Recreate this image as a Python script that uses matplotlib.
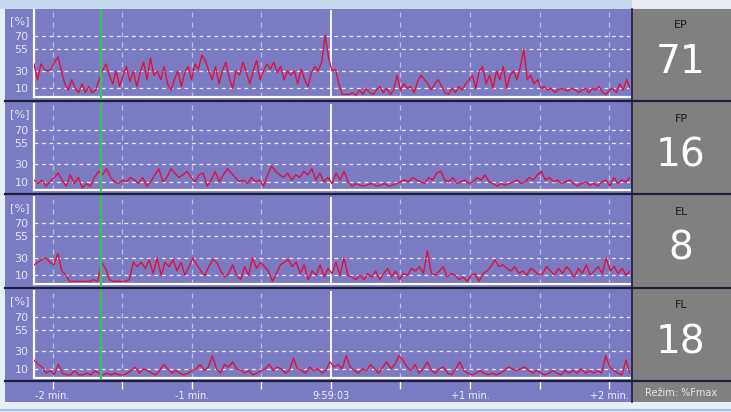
import numpy as np
import matplotlib.pyplot as plt
from matplotlib.patches import Rectangle
from matplotlib.lines import Line2D

# ---- data (values in % of Fmax) ----
channels = ["EP", "FP", "EL", "FL"]
current_values = [71, 16, 8, 18]

ep = [38, 20, 38, 32, 30, 32, 40, 46, 30, 15, 8, 20, 10, 5, 15, 5, 12, 5, 8,
      20, 30, 38, 25, 15, 30, 12, 25, 35, 18, 30, 12, 28, 40, 20, 45, 25, 30, 20,
      35, 15, 8, 20, 30, 12, 28, 35, 20, 38, 32, 48, 42, 30, 20, 35, 15, 30, 40,
      22, 10, 30, 25, 40, 28, 15, 30, 42, 20, 30, 38, 32, 40, 28, 35, 20, 30, 25,
      30, 15, 32, 20, 12, 28, 35, 30, 40, 71, 45, 30, 32, 15, 3, 3, 3, 5, 2, 8,
      3, 10, 5, 3, 8, 12, 5, 10, 3, 8, 25, 8, 15, 10, 12, 5, 18, 25, 20, 15, 8,
      15, 20, 12, 5, 3, 10, 5, 12, 8, 15, 20, 25, 10, 30, 35, 15, 25, 10, 30, 20,
      35, 10, 25, 30, 20, 35, 55, 20, 25, 15, 20, 10, 12, 8, 10, 5, 8, 10, 8, 7,
      10, 8, 5, 8, 10, 5, 10, 8, 12, 5, 3, 8, 10, 5, 15, 8, 20, 10]

fp = [12, 8, 12, 5, 10, 15, 20, 12, 5, 18, 8, 15, 3, 8, 5, 15, 22, 18, 25, 15,
      10, 8, 12, 10, 15, 12, 8, 15, 5, 10, 18, 25, 10, 15, 25, 20, 15, 18, 22, 15,
      10, 18, 20, 5, 12, 22, 10, 18, 25, 20, 15, 10, 12, 8, 15, 10, 12, 5, 18, 28,
      22, 18, 15, 20, 12, 18, 15, 22, 18, 25, 12, 20, 10, 15, 8, 20, 12, 22, 10, 5,
      8, 6, 5, 7, 8, 5, 6, 8, 5, 6, 8, 10, 12, 10, 15, 12, 10, 8, 15, 12, 20, 22,
      12, 10, 15, 8, 10, 12, 8, 10, 15, 12, 18, 10, 8, 5, 8, 6, 8, 10, 12, 8, 10,
      15, 12, 18, 22, 12, 15, 10, 12, 8, 10, 12, 8, 5, 8, 10, 6, 8, 5, 10, 12, 5,
      15, 8, 12, 10, 15]

el = [22, 25, 28, 30, 25, 22, 35, 15, 10, 3, 3, 3, 3, 3, 3, 5, 3, 25, 18, 5, 3,
      3, 3, 3, 5, 25, 20, 25, 18, 28, 12, 30, 10, 25, 20, 28, 15, 25, 10, 20, 30,
      22, 15, 10, 20, 28, 25, 15, 8, 12, 22, 10, 5, 20, 10, 30, 18, 25, 20, 15, 3,
      12, 22, 25, 28, 20, 25, 12, 22, 5, 15, 10, 22, 8, 18, 12, 25, 10, 30, 10, 8,
      5, 10, 5, 12, 8, 15, 5, 12, 18, 8, 15, 5, 12, 10, 18, 15, 20, 12, 38, 12, 10,
      15, 20, 8, 12, 10, 5, 8, 3, 10, 12, 3, 12, 15, 20, 28, 20, 22, 18, 15, 20,
      12, 15, 10, 18, 15, 10, 12, 20, 15, 10, 18, 12, 20, 15, 8, 18, 12, 22, 10,
      15, 20, 12, 30, 15, 20, 12, 18, 10, 15]

fl = [20, 15, 12, 5, 8, 3, 15, 5, 3, 3, 8, 3, 3, 5, 3, 8, 5, 3, 5, 3, 5, 3, 3, 5,
      8, 12, 5, 10, 8, 5, 3, 8, 15, 10, 5, 8, 5, 3, 5, 8, 10, 15, 8, 12, 25, 10, 5,
      15, 12, 18, 10, 8, 5, 8, 3, 5, 8, 10, 15, 8, 12, 10, 5, 8, 22, 10, 8, 5, 12,
      8, 10, 5, 8, 18, 12, 15, 10, 25, 12, 8, 5, 10, 8, 15, 10, 5, 12, 18, 10, 15,
      25, 20, 12, 8, 15, 5, 10, 18, 8, 5, 10, 12, 5, 3, 10, 18, 8, 5, 3, 5, 8, 5,
      3, 5, 3, 5, 8, 12, 10, 8, 10, 12, 8, 5, 8, 5, 3, 5, 8, 5, 3, 8, 5, 8, 5, 10,
      5, 8, 5, 8, 5, 25, 12, 8, 5, 3, 20, 5]

series = [ep, fp, el, fl]

t_start, t_end = -128, 129          # seconds relative to 9:59:03
marker_time = -99                   # green cursor
y_ticks = [10, 30, 55, 70]
time_ticks = [-120, -90, -60, -30, 0, 30, 60, 90, 120]
time_labels = ["-2 min.", "", "-1 min.", "", "9:59:03", "", "+1 min.", "", "+2 min."]

# ---- look ----
W, H = 731, 412
PURPLE = "#7b7bc4"
GRAY = "#808080"
DARK = "#1e1e3c"
RED = "#e0103c"
LIGHT = "#e4e4f4"


def box(x0, y0, x1, y1):
    return [x0 / W, 1 - y1 / H, (x1 - x0) / W, (y1 - y0) / H]


def rect(x0, y0, x1, y1, color, z=-2):
    r = Rectangle((x0 / W, 1 - y1 / H), (x1 - x0) / W, (y1 - y0) / H,
                  transform=fig.transFigure, facecolor=color, edgecolor="none", zorder=z)
    fig.add_artist(r)


def hline(y, x0, x1, color, lw):
    fig.add_artist(Line2D([x0 / W, x1 / W], [1 - y / H, 1 - y / H], color=color,
                          lw=lw, transform=fig.transFigure, zorder=5))


fig = plt.figure(figsize=(W / 100, H / 100), dpi=100, facecolor="#e6eef6")

# background pieces
rect(0, 0, W, 9, "#c6daef")
rect(632, 0, W, 9, "#e8ecf0")
rect(5, 9, 632, 402, PURPLE)
rect(632, 9, W, 402, GRAY)
rect(0, 402, W, 412, "#e6eef6")
hline(409.5, 0, W, "#9ec0e6", 1.5)
fig.add_artist(Line2D([632 / W, 632 / W], [1 - 9 / H, 1 - 402 / H], color=DARK,
                      lw=1.2, transform=fig.transFigure, zorder=5))

pitch = 93.5
for i, (name, vals, cur) in enumerate(zip(channels, series, current_values)):
    top = 10 + pitch * i
    ax = fig.add_axes(box(34, top, 630, top + 87))
    ax.set_facecolor(PURPLE)
    t = np.linspace(t_start, t_end, len(vals))
    for yv in y_ticks:
        ax.axhline(yv, color="white", lw=0.9, dashes=(3, 3), alpha=0.85, zorder=1)
    for tv in time_ticks:
        if tv == 0:
            ax.axvline(tv, color="white", lw=1.3, zorder=1)
        else:
            ax.axvline(tv, color="#cfcff2", lw=0.9, dashes=(4, 4), alpha=0.8, zorder=1)
    ax.plot(t, vals, color=RED, lw=1.0, zorder=3)
    ax.axvline(marker_time, color="#3cc060", lw=1.6, zorder=2)
    ax.set_xlim(t_start, t_end)
    ax.set_ylim(0, 100)
    ax.set_xticks([])
    ax.set_yticks(y_ticks)
    ax.set_yticklabels([str(v) for v in y_ticks])
    ax.tick_params(axis="y", length=0, pad=4, labelsize=8, labelcolor=LIGHT)
    for s in ["top", "right"]:
        ax.spines[s].set_visible(False)
    for s in ["left", "bottom"]:
        ax.spines[s].set_color("white")
        ax.spines[s].set_linewidth(1.6)
    fig.text(20 / W, 1 - (top + 11) / H, "[%]", ha="center", va="center",
             fontsize=8, color=LIGHT)

    # separator line under the strip
    hline(top + 90.5, 5, W, DARK, 1.6)

    # value box on the right
    fig.text(681 / W, 1 - (top + 15) / H, name, ha="center", va="center",
             fontsize=8, color="#1a1a1a")
    fig.text(681 / W, 1 - (top + 52) / H, str(cur), ha="center", va="center",
             fontsize=28, color="white",
             family=["Liberation Sans Narrow", "DejaVu Sans"])

# green cursor crossing the gaps between strips
axg = fig.add_axes(box(34, 10, 630, 381))
axg.set_xlim(t_start, t_end)
axg.axvline(marker_time, color="#3cc060", lw=1.6)
axg.axis("off")

# time axis
axt = fig.add_axes(box(34, 381, 630, 388))
axt.set_facecolor("none")
axt.set_xlim(t_start, t_end)
axt.set_yticks([])
axt.set_xticks(time_ticks)
axt.set_xticklabels(time_labels)
axt.tick_params(axis="x", top=True, bottom=False, direction="in", length=6,
                width=1, color="white", labelsize=7, labelcolor="#f0f0fa", pad=2)
for s in axt.spines.values():
    s.set_visible(False)

fig.text(681 / W, 1 - 393 / H, "Režim: %Fmax", ha="center", va="center",
         fontsize=7, color="#e6e6e6")

plt.savefig("out.png", dpi=100, facecolor=fig.get_facecolor())
